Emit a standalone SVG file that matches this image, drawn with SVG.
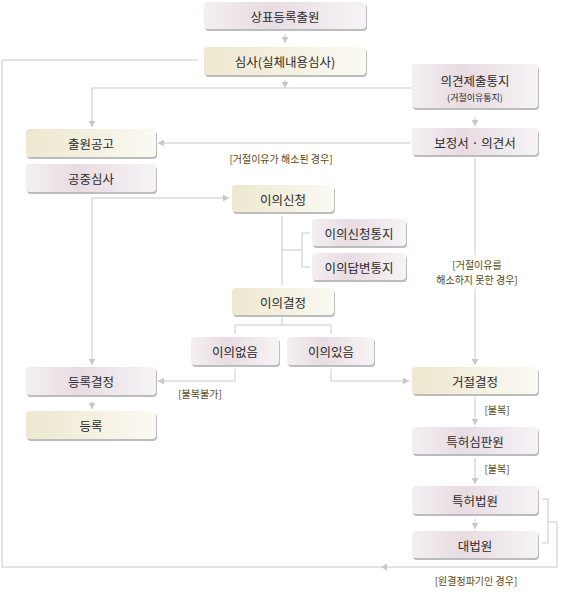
<svg xmlns="http://www.w3.org/2000/svg" width="570" height="593" viewBox="0 0 570 593">
<defs>
<linearGradient id="gm" x1="0" y1="0" x2="1" y2="0">
<stop offset="0" stop-color="#f4eff2"/><stop offset="0.4" stop-color="#e7dce3"/><stop offset="1" stop-color="#f7f3f5"/>
</linearGradient>
<linearGradient id="gc" x1="0" y1="0" x2="1" y2="0">
<stop offset="0" stop-color="#eee8d0"/><stop offset="0.5" stop-color="#f4f0e0"/><stop offset="1" stop-color="#fbfaf3"/>
</linearGradient>
<marker id="ah" markerUnits="userSpaceOnUse" markerWidth="7" markerHeight="7" refX="6" refY="3.5" orient="auto">
<path d="M0,0 L6,3.5 L0,7 Z" fill="#c8c8c8"/>
</marker>
<style>
.sh{fill:#bcbcbc}
.m{fill:url(#gm)}
.c{fill:url(#gc)}
.t{font-family:"Noto Sans CJK KR","Noto Sans",sans-serif;font-size:12.5px;fill:#2a2a2a;text-anchor:middle;dominant-baseline:central}
.s{font-size:9px}
.b{font-family:"Noto Sans CJK KR","Noto Sans",sans-serif;font-size:10px;fill:#5a4610;text-anchor:middle;dominant-baseline:central}
.ln{fill:none;stroke:#c8c8c8;stroke-width:1}
.ar{fill:none;stroke:#c8c8c8;stroke-width:1;marker-end:url(#ah)}
</style>
</defs>
<rect width="570" height="593" fill="#fff"/>
<g id="connectors">
<path class="ar" d="M285,34 V43"/>
<path class="ar" d="M285,80 V88"/>
<path class="ln" d="M198,60 H2 V567 H557 V522"/>
<polygon points="381,567 387,563.5 387,570.5" fill="#c8c8c8"/>
<path class="ln" d="M542,499 H548 V543 H542 M548,522 H557"/>
<path class="ln" d="M411,88 H92"/>
<path class="ar" d="M92,88 V127"/>
<path class="ar" d="M475,117 V126"/>
<path class="ar" d="M411,143 H158"/>
<path class="ar" d="M475,158 V365"/>
<path class="ar" d="M92,198 H229"/>
<path class="ar" d="M92,198 V365"/>
<path class="ln" d="M282,216 V285 M282,250 H302 M310,233 H302 V267 H310"/>
<path class="ln" d="M282,318 V325 M235,334 V325 H331 V334"/>
<path class="ar" d="M235,369 V381 H158"/>
<path class="ar" d="M331,369 V381 H409"/>
<path class="ar" d="M92,401 V409"/>
<path class="ar" d="M475,397 V425"/>
<path class="ar" d="M475,458 V484"/>
<path class="ar" d="M475,519 V529"/>
</g>
<g id="labels">
<text class="b" x="281" y="158">[거절이유가 해소된 경우]</text>
<rect x="440" y="255" width="72" height="34" fill="#fff"/>
<text class="b" x="477" y="264">[거절이유를</text>
<text class="b" x="477" y="279">해소하지 못한 경우]</text>
<text class="b" x="200" y="393">[불복불가]</text>
<text class="b" x="497" y="409">[불복]</text>
<text class="b" x="497" y="468">[불복]</text>
<text class="b" x="476" y="580">[원결정파기인 경우]</text>
</g>
<g id="n1"><rect class="sh" x="205" y="4" width="162" height="27" rx="4"/><rect class="m" x="204" y="2" width="162" height="27" rx="4"/><text class="t" x="285" y="16">상표등록출원</text></g>
<g id="n2"><rect class="sh" x="205" y="49" width="162" height="28" rx="4"/><rect class="c" x="204" y="47" width="162" height="28" rx="4"/><text class="t" x="285" y="61">심사(실체내용심사)</text></g>
<g id="n3"><rect class="sh" x="413" y="66" width="126" height="44" rx="4"/><rect class="m" x="412" y="64" width="126" height="44" rx="4"/><text class="t" x="475" y="80">의견제출통지</text><text class="t s" x="475" y="97">(거절이유통지)</text></g>
<g id="n4"><rect class="sh" x="413" y="130" width="126" height="27" rx="4"/><rect class="m" x="412" y="128" width="126" height="27" rx="4"/><text class="t" x="475" y="142">보정서 · 의견서</text></g>
<g id="n5"><rect class="sh" x="27" y="131" width="130" height="28" rx="4"/><rect class="c" x="26" y="129" width="130" height="28" rx="4"/><text class="t" x="91" y="143">출원공고</text></g>
<g id="n6"><rect class="sh" x="27" y="166" width="130" height="28" rx="4"/><rect class="m" x="26" y="164" width="130" height="28" rx="4"/><text class="t" x="91" y="178">공중심사</text></g>
<g id="n7"><rect class="sh" x="233" y="187" width="102" height="27" rx="4"/><rect class="c" x="232" y="185" width="102" height="27" rx="4"/><text class="t" x="283" y="199">이의신청</text></g>
<g id="n8"><rect class="sh" x="313" y="221" width="94" height="27" rx="4"/><rect class="m" x="312" y="219" width="94" height="27" rx="4"/><text class="t" x="359" y="233">이의신청통지</text></g>
<g id="n9"><rect class="sh" x="313" y="255" width="94" height="27" rx="4"/><rect class="m" x="312" y="253" width="94" height="27" rx="4"/><text class="t" x="359" y="267">이의답변통지</text></g>
<g id="n10"><rect class="sh" x="233" y="290" width="102" height="27" rx="4"/><rect class="c" x="232" y="288" width="102" height="27" rx="4"/><text class="t" x="283" y="302">이의결정</text></g>
<g id="n11"><rect class="sh" x="192" y="339" width="88" height="28" rx="4"/><rect class="m" x="191" y="337" width="88" height="28" rx="4"/><text class="t" x="235" y="351">이의없음</text></g>
<g id="n12"><rect class="sh" x="288" y="339" width="87" height="28" rx="4"/><rect class="m" x="287" y="337" width="87" height="28" rx="4"/><text class="t" x="331" y="351">이의있음</text></g>
<g id="n13"><rect class="sh" x="27" y="369" width="130" height="28" rx="4"/><rect class="m" x="26" y="367" width="130" height="28" rx="4"/><text class="t" x="91" y="381">등록결정</text></g>
<g id="n14"><rect class="sh" x="27" y="413" width="130" height="28" rx="4"/><rect class="c" x="26" y="411" width="130" height="28" rx="4"/><text class="t" x="91" y="425">등록</text></g>
<g id="n15"><rect class="sh" x="413" y="369" width="126" height="27" rx="4"/><rect class="c" x="412" y="367" width="126" height="27" rx="4"/><text class="t" x="475" y="381">거절결정</text></g>
<g id="n16"><rect class="sh" x="413" y="429" width="126" height="27" rx="4"/><rect class="m" x="412" y="427" width="126" height="27" rx="4"/><text class="t" x="475" y="441">특허심판원</text></g>
<g id="n17"><rect class="sh" x="413" y="488" width="126" height="28" rx="4"/><rect class="m" x="412" y="486" width="126" height="28" rx="4"/><text class="t" x="475" y="500">특허법원</text></g>
<g id="n18"><rect class="sh" x="413" y="533" width="126" height="27" rx="4"/><rect class="m" x="412" y="531" width="126" height="27" rx="4"/><text class="t" x="475" y="545">대법원</text></g>
</svg>
